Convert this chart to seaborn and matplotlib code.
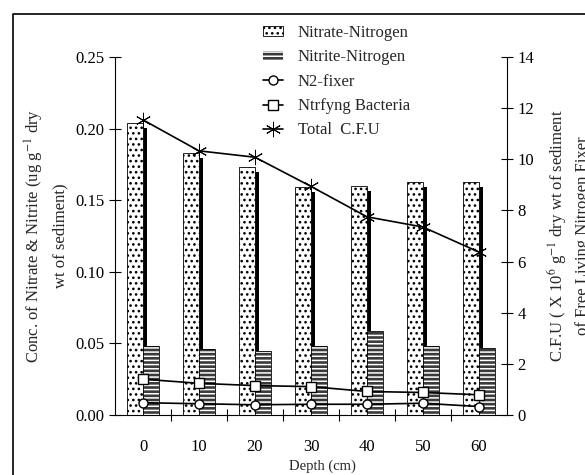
import numpy as np
import pandas as pd
import matplotlib
matplotlib.use("Agg")
import matplotlib.pyplot as plt
import matplotlib.transforms as mtransforms
from matplotlib.patches import Rectangle
from matplotlib.lines import Line2D
import seaborn as sns

# ---------------- data ----------------
depth = ["0", "10", "20", "30", "40", "50", "60"]
nitrate = [0.204, 0.183, 0.173, 0.159, 0.160, 0.163, 0.163]
nitrite = [0.048, 0.046, 0.045, 0.048, 0.059, 0.048, 0.047]
n2_fixer = [0.48, 0.44, 0.40, 0.42, 0.42, 0.46, 0.33]
nitrifying = [1.40, 1.24, 1.15, 1.11, 0.92, 0.88, 0.79]
total_cfu = [11.54, 10.33, 10.08, 8.94, 7.75, 7.35, 6.37]
left_ticks = [0.00, 0.05, 0.10, 0.15, 0.20, 0.25]
right_ticks = [0, 2, 4, 6, 8, 10, 12, 14]

sns.set_theme(style="white")
plt.rcParams["font.family"] = ["Liberation Serif", "DejaVu Serif"]
plt.rcParams["mathtext.fontset"] = "stix"
plt.rcParams["hatch.linewidth"] = 1.1

W, H = 585, 475
fig = plt.figure(figsize=(W / 100, H / 100), dpi=100)
ax = fig.add_axes([115 / W, 1 - 415 / H, 392 / W, 358 / H])

bar_df = pd.DataFrame({
    "Depth": depth * 2,
    "Conc": nitrate + nitrite,
    "Form": ["Nitrate-Nitrogen"] * len(depth) + ["Nitrite-Nitrogen"] * len(depth),
})
sns.barplot(data=bar_df, x="Depth", y="Conc", hue="Form", order=depth,
            hue_order=["Nitrate-Nitrogen", "Nitrite-Nitrogen"],
            palette=["white", "#333333"], saturation=1, width=0.572, gap=0,
            errorbar=None, legend=False, ax=ax)

shadow_tr = ax.transData + mtransforms.ScaledTranslation(0.04, -0.05, fig.dpi_scale_trans)
for p in ax.containers[0]:
    p.set(facecolor="white", edgecolor="black", hatch="...", linewidth=0.6, zorder=2)
    p.set_label("Nitrate-Nitrogen")
    sh = Rectangle(p.get_xy(), p.get_width(), p.get_height(), transform=shadow_tr,
                   facecolor="black", edgecolor="none", zorder=1.5)
    ax.add_patch(sh)
for p in ax.containers[1]:
    p.set(facecolor="#3a3a3a", edgecolor="white", hatch="----", linewidth=0, zorder=2)
    p.set_label("Nitrite-Nitrogen")
    ol = Rectangle(p.get_xy(), p.get_width(), p.get_height(), fill=False,
                   edgecolor="black", linewidth=0.6, zorder=2.1)
    ax.add_patch(ol)

ax2 = ax.twinx()
common = dict(ax=ax2, color="black", linestyles="-", errorbar=None, linewidth=1.2)
sns.pointplot(x=depth, y=n2_fixer, markers="o", markersize=6.5,
              markerfacecolor="white", markeredgecolor="black", markeredgewidth=1.0,
              label="N2-fixer", **common)
sns.pointplot(x=depth, y=nitrifying, markers="s", markersize=7.5,
              markerfacecolor="white", markeredgecolor="black", markeredgewidth=1.0,
              label="Ntrfyng Bacteria", **common)
sns.pointplot(x=depth, y=total_cfu, markers=(6, 2, 0), markersize=11,
              markeredgecolor="black", markeredgewidth=0.7,
              label="Total  C.F.U", **common)
if ax2.get_legend() is not None:
    ax2.get_legend().remove()

ax.set_xlim(-0.5, len(depth) - 0.5)
ax.set_ylim(0, 0.25)
ax.set_yticks(left_ticks)
ax.set_yticklabels([f"{v:.2f}" for v in left_ticks])
ax2.set_ylim(0, 14)
ax2.set_yticks(right_ticks)
ax2.set_yticklabels([str(v) for v in right_ticks])

ax.set_xticks(range(len(depth)))
ax.set_xticklabels(depth)
ax.set_xticks(np.arange(0.5, len(depth) - 0.5, 1), minor=True)
ax.tick_params(axis="x", which="major", length=0, labelsize=12, pad=17, colors="black")
ax.tick_params(axis="x", which="minor", direction="inout", length=9, width=0.8,
               color="black", bottom=True)
ax.tick_params(axis="y", direction="inout", length=9, width=0.8, labelsize=12,
               pad=3, colors="black", left=True)
ax2.tick_params(axis="y", direction="inout", length=9, width=0.8, labelsize=12,
                pad=3, colors="black", right=True)
ax.set_xlabel("")
ax.set_ylabel("")
ax2.set_ylabel("")
ax2.set_xlabel("")

for s in ["top", "right"]:
    ax.spines[s].set_visible(False)
for s in ["top", "left", "bottom"]:
    ax2.spines[s].set_visible(False)
for s in ["left", "bottom"]:
    ax.spines[s].set_color("black")
    ax.spines[s].set_linewidth(0.8)
ax2.spines["right"].set_color("black")
ax2.spines["right"].set_linewidth(0.8)

# axis titles
fig.text(45.5 / W, 1 - 236 / H,
         "Conc. of Nitrate & Nitrite (ug g$^{-1}$ dry\nwt of sediment)",
         rotation=90, ha="center", va="center", fontsize=12,
         multialignment="center", linespacing=1.5)
fig.text(568 / W, 1 - 236 / H,
         "C.F.U ( X 10$^{6}$ g$^{-1}$ dry wt of sediment\nof Free Living Nitrogen Fixer",
         rotation=90, ha="center", va="center", fontsize=12,
         multialignment="center", linespacing=1.5)
fig.text(322 / W, 1 - 466 / H, "Depth (cm)", ha="center", va="center", fontsize=10.5)

# legend
handles = [ax.containers[0][0], ax.containers[1][0]]
labels = ["Nitrate-Nitrogen", "Nitrite-Nitrogen"]
h2, l2 = ax2.get_legend_handles_labels()
handles += h2
labels += l2
fig.legend(handles, labels, loc="upper left", bbox_to_anchor=(263 / W, 1 - 25 / H),
           bbox_transform=fig.transFigure, frameon=False, fontsize=12,
           handlelength=1.2, handletextpad=0.9, labelspacing=0.5,
           borderpad=0, borderaxespad=0, handleheight=0.5)

# outer frame
fig.add_artist(Line2D([12.5 / W, 12.5 / W, 1.0], [0.0, 1 - 14 / H, 1 - 14 / H],
                      transform=fig.transFigure, color="black", linewidth=1.2))

fig.savefig("out.png", dpi=100)
